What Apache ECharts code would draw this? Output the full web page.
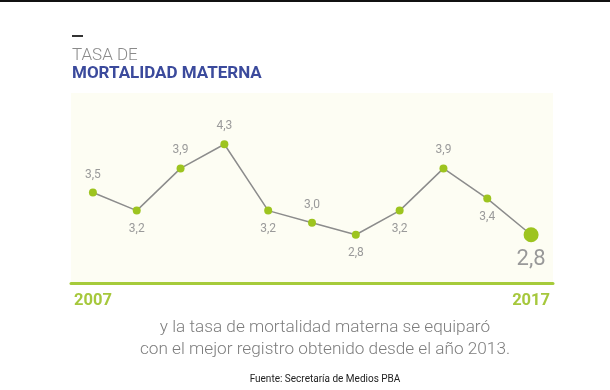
<!DOCTYPE html>
<html>
<head>
<meta charset="utf-8">
<script src="https://cdn.jsdelivr.net/npm/echarts@6/dist/echarts.min.js"></script>
<style>
html,body{margin:0;padding:0;background:#fff;}
#c{width:610px;height:390px;}
</style>
</head>
<body>
<div id="c"></div>
<script>
const years = ['2007','2008','2009','2010','2011','2012','2013','2014','2015','2016','2017'];
const rates = [3.5, 3.2, 3.9, 4.3, 3.2, 3.0, 2.8, 3.2, 3.9, 3.4, 2.8];
const labelPos = ['top','bottom','top','top','bottom','top','bottom','bottom','top','bottom','bottom'];
const titleLine1 = 'TASA DE';
const titleLine2 = 'MORTALIDAD MATERNA';
const noteLine1 = 'y la tasa de mortalidad materna se equiparó';
const noteLine2 = 'con el mejor registro obtenido desde el año 2013.';
const source = 'Fuente: Secretaría de Medios PBA';

const green = '#9dc41f';
const fmt = v => v.toFixed(1).replace('.', ',');

const chart = echarts.init(document.getElementById('c'));
const last = rates.length - 1;
const data = rates.map((v, i) => {
  const d = {
    value: v,
    label: { position: labelPos[i] }
  };
  if (i === last) {
    d.symbolSize = 15;
    d.label = { position: 'bottom', fontSize: 22, distance: 6, color: '#999' };
  }
  return d;
});

chart.setOption({
  backgroundColor: '#ffffff',
  animation: false,
  grid: {
    left: 71, width: 482, top: 93, bottom: 107,
    show: true, backgroundColor: '#fdfdf3', borderWidth: 0
  },
  xAxis: {
    type: 'category',
    data: years,
    boundaryGap: true,
    axisLine: { show: true, lineStyle: { color: '#a6cb3a', width: 3 } },
    axisTick: { show: false },
    axisLabel: {
      interval: (idx) => idx === 0 || idx === years.length - 1,
      color: '#a6c83c', fontWeight: 'bold', fontSize: 16.5,
      fontFamily: 'Roboto', margin: 9
    },
    splitLine: { show: false }
  },
  yAxis: {
    type: 'value', min: 2, max: 5.15,
    show: false
  },
  series: [{
    type: 'line',
    data: data,
    symbol: 'circle',
    symbolSize: 8,
    lineStyle: { color: '#8c8c8c', width: 1.5 },
    itemStyle: { color: green },
    label: {
      show: true,
      formatter: p => fmt(p.value),
      color: '#9a9a9a', fontSize: 12, fontFamily: 'Roboto', distance: 8
    },
    z: 3
  }],
  graphic: [
    { type: 'rect', shape: { x: 0, y: 0, width: 610, height: 2 }, style: { fill: '#111' } },
    { type: 'rect', shape: { x: 72, y: 35, width: 11, height: 2 }, style: { fill: '#333' } },
    { type: 'text', left: 72, top: 47, style: { text: titleLine1, fill: '#8a8a8a', fontSize: 17, fontWeight: 300, fontFamily: 'Roboto' } },
    { type: 'text', left: 72, top: 65, style: { text: titleLine2, fill: '#3b4a9c', fontSize: 17, fontWeight: 'bold', fontFamily: 'Roboto' } },
    { type: 'text', x: 325, y: 328, style: { text: noteLine1, fill: '#7d7d7d', fontSize: 17.2, fontWeight: 300, fontFamily: 'Roboto', align: 'center', verticalAlign: 'middle' } },
    { type: 'text', x: 325, y: 350, style: { text: noteLine2, fill: '#7d7d7d', fontSize: 17.2, fontWeight: 300, fontFamily: 'Roboto', align: 'center', verticalAlign: 'middle' } },
    { type: 'text', x: 325, y: 379, style: { text: source, fill: '#222', fontSize: 10, fontFamily: 'Roboto', align: 'center', verticalAlign: 'middle' } }
  ]
});
</script>
</body>
</html>
